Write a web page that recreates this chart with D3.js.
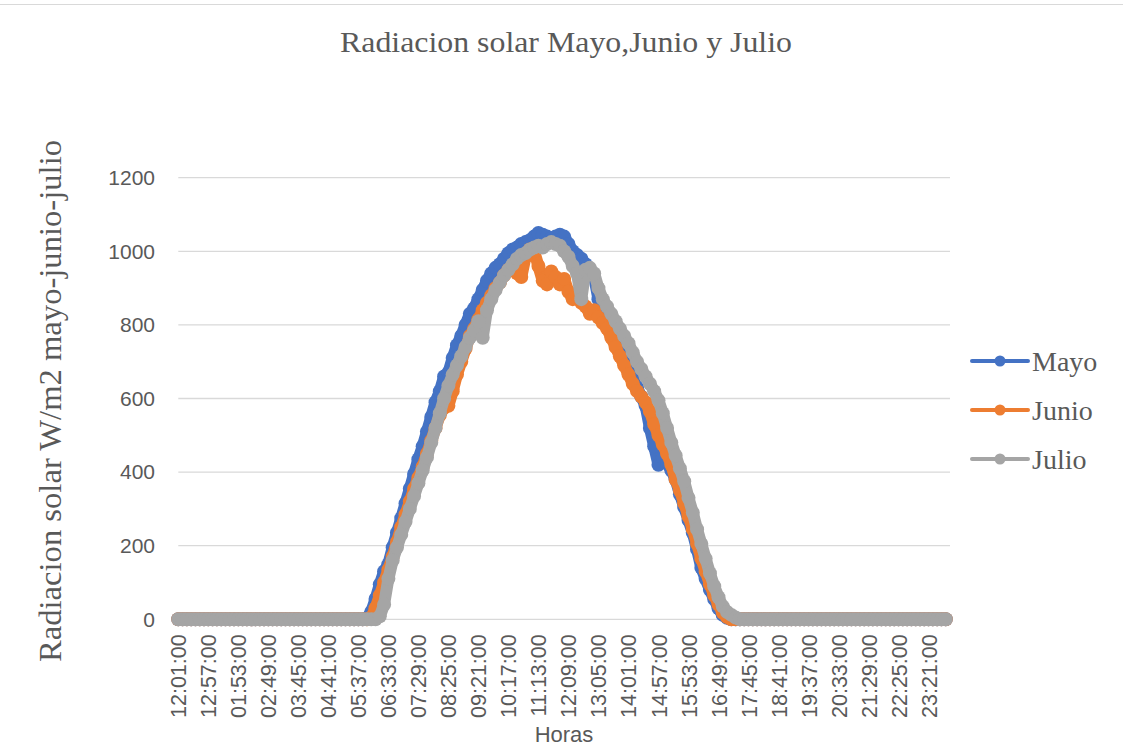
<!DOCTYPE html>
<html>
<head>
<meta charset="utf-8">
<script src="https://cdn.jsdelivr.net/npm/d3@7/dist/d3.min.js"></script>
<style>
  body { margin: 0; background: #fff; }
  svg { display: block; }
</style>
</head>
<body>
<div id="chart"></div>
<script>
// categories: one sample every 8 minutes starting at 00:01
const minutos = d3.range(1, 1440, 8);

const tickLabels = [
  '12:01:00', '12:57:00', '01:53:00', '02:49:00', '03:45:00', '04:41:00',
  '05:37:00', '06:33:00', '07:29:00', '08:25:00', '09:21:00', '10:17:00',
  '11:13:00', '12:09:00', '13:05:00', '14:01:00', '14:57:00', '15:53:00',
  '16:49:00', '17:45:00', '18:41:00', '19:37:00', '20:33:00', '21:29:00',
  '22:25:00', '23:21:00'
];

const yTicks = [0, 200, 400, 600, 800, 1000, 1200];

const mayo = [
  0, 0, 0, 0, 0, 0, 0, 0, 0, 0,
  0, 0, 0, 0, 0, 0, 0, 0, 0, 0,
  0, 0, 0, 0, 0, 0, 0, 0, 0, 0,
  0, 0, 0, 0, 0, 0, 0, 0, 0, 0,
  0, 0, 0, 0, 3, 20, 55, 95, 130, 150,
  195, 235, 275, 315, 355, 395, 435, 470, 510, 550,
  590, 620, 660, 670, 710, 745, 770, 800, 830, 845,
  870, 895, 920, 940, 955, 965, 980, 995, 1005, 1010,
  1020, 1025, 1030, 1040, 1050, 1045, 1040, 1035, 1040, 1045,
  1040, 1020, 1000, 990, 980, 965, 950, 930, 870, 850,
  820, 790, 760, 735, 710, 685, 655, 630, 605, 580,
  520, 470, 420, 440, 425, 405, 380, 340, 305, 270,
  235, 190, 140, 110, 80, 55, 30, 12, 4, 0,
  0, 0, 0, 0, 0, 0, 0, 0, 0, 0,
  0, 0, 0, 0, 0, 0, 0, 0, 0, 0,
  0, 0, 0, 0, 0, 0, 0, 0, 0, 0,
  0, 0, 0, 0, 0, 0, 0, 0, 0, 0,
  0, 0, 0, 0, 0, 0, 0, 0, 0, 0
];

const junio = [
  0, 0, 0, 0, 0, 0, 0, 0, 0, 0,
  0, 0, 0, 0, 0, 0, 0, 0, 0, 0,
  0, 0, 0, 0, 0, 0, 0, 0, 0, 0,
  0, 0, 0, 0, 0, 0, 0, 0, 0, 0,
  0, 0, 0, 0, 0, 5, 30, 65, 100, 135,
  170, 210, 250, 285, 320, 355, 385, 415, 450, 485,
  520, 555, 575, 580, 620, 665, 700, 735, 770, 790,
  815, 840, 860, 880, 900, 915, 935, 950, 960, 940,
  930, 985, 1005, 1000, 960, 920, 910, 945, 930, 910,
  925, 890, 870, 880, 860, 850, 830, 840, 820, 805,
  790, 765, 740, 715, 690, 665, 640, 620, 605, 590,
  565, 530, 500, 475, 450, 420, 380, 350, 315, 280,
  245, 205, 165, 130, 95, 65, 40, 18, 6, 0,
  0, 0, 0, 0, 0, 0, 0, 0, 0, 0,
  0, 0, 0, 0, 0, 0, 0, 0, 0, 0,
  0, 0, 0, 0, 0, 0, 0, 0, 0, 0,
  0, 0, 0, 0, 0, 0, 0, 0, 0, 0,
  0, 0, 0, 0, 0, 0, 0, 0, 0, 0
];

const julio = [
  0, 0, 0, 0, 0, 0, 0, 0, 0, 0,
  0, 0, 0, 0, 0, 0, 0, 0, 0, 0,
  0, 0, 0, 0, 0, 0, 0, 0, 0, 0,
  0, 0, 0, 0, 0, 0, 0, 0, 0, 0,
  0, 0, 0, 0, 0, 0, 0, 8, 40, 110,
  160, 195, 230, 265, 300, 335, 370, 405, 440, 480,
  520, 560, 600, 635, 665, 690, 715, 740, 765, 785,
  810, 765, 840, 870, 895, 915, 935, 950, 965, 980,
  990, 995, 1005, 1010, 1015, 1010, 1020, 1025, 1020, 1015,
  1000, 985, 960, 940, 870, 950, 955, 940, 900, 870,
  850, 830, 810, 790, 770, 750, 725, 700, 680, 660,
  640, 620, 595, 560, 520, 480, 445, 410, 375, 330,
  290, 245, 205, 165, 125, 90, 60, 35, 20, 12,
  5, 0, 0, 0, 0, 0, 0, 0, 0, 0,
  0, 0, 0, 0, 0, 0, 0, 0, 0, 0,
  0, 0, 0, 0, 0, 0, 0, 0, 0, 0,
  0, 0, 0, 0, 0, 0, 0, 0, 0, 0,
  0, 0, 0, 0, 0, 0, 0, 0, 0, 0
];

const seriesNames = ['Mayo', 'Junio', 'Julio'];
const seriesColors = ['#4472C4', '#ED7D31', '#A5A5A5'];

const W = 1123;
const H = 751;
const plotLeft = 178.3;
const plotRight = 950;
const plotTop = 177.7;
const plotBottom = 619.3;
const pxPerMin = (plotRight - plotLeft) / 1440;

const svg = d3.select('#chart')
  .append('svg')
  .attr('width', W)
  .attr('height', H);

svg.append('line')
  .attr('x1', 0).attr('x2', W)
  .attr('y1', 4.5).attr('y2', 4.5)
  .attr('stroke', '#d9d9d9')
  .attr('stroke-width', 1.2);

const xScale = d3.scalePoint()
  .domain(minutos)
  .range([plotLeft, plotLeft + (minutos[minutos.length - 1] - 1) * pxPerMin]);

const yScale = d3.scaleLinear()
  .domain([0, 1200])
  .range([plotBottom, plotTop]);

// gridlines
svg.append('g')
  .selectAll('line')
  .data(yTicks)
  .enter().append('line')
  .attr('x1', plotLeft)
  .attr('x2', plotRight)
  .attr('y1', d => yScale(d))
  .attr('y2', d => yScale(d))
  .attr('stroke', '#d9d9d9')
  .attr('stroke-width', 1.3);

// y axis labels
svg.append('g')
  .attr('id', 'y-axis')
  .attr('transform', 'translate(155,0)')
  .call(d3.axisLeft(yScale)
    .tickValues(yTicks)
    .tickFormat(d3.format('d'))
    .tickSize(0)
    .tickPadding(0))
  .call(g => g.select('.domain').remove())
  .selectAll('text')
  .attr('font-family', '"Liberation Sans", Arial, sans-serif')
  .attr('font-size', 21)
  .attr('fill', '#595959');

// x axis labels, every 56 minutes
const tickCats = minutos.filter((d, i) => i % 7 === 0);

svg.append('g')
  .attr('id', 'x-axis')
  .attr('transform', `translate(0, ${plotBottom})`)
  .call(d3.axisBottom(xScale)
    .tickValues(tickCats)
    .tickFormat((d, i) => tickLabels[i])
    .tickSize(0))
  .call(g => g.select('.domain').remove())
  .selectAll('text')
  .attr('transform', 'rotate(-90)')
  .attr('x', -15)
  .attr('y', 0)
  .attr('dy', '0.35em')
  .attr('text-anchor', 'end')
  .attr('font-family', '"Liberation Sans", Arial, sans-serif')
  .attr('font-size', 21.5)
  .attr('fill', '#595959');

// series: per-minute markers overlap into a thick band
const allSeries = [mayo, junio, julio];

const line = d3.line()
  .x((d, i) => xScale(minutos[i]))
  .y(d => yScale(d));

allSeries.forEach((values, s) => {
  const g = svg.append('g').attr('class', 'serie');
  g.append('path')
    .datum(values)
    .attr('d', line)
    .attr('fill', 'none')
    .attr('stroke', seriesColors[s])
    .attr('stroke-width', 12)
    .attr('stroke-linejoin', 'round')
    .attr('stroke-linecap', 'round');
  g.selectAll('circle')
    .data(values)
    .enter().append('circle')
    .attr('cx', (d, i) => xScale(minutos[i]))
    .attr('cy', d => yScale(d))
    .attr('r', 7)
    .attr('fill', seriesColors[s]);
});

// title
svg.append('text')
  .attr('x', 566)
  .attr('y', 52)
  .attr('text-anchor', 'middle')
  .attr('font-family', '"Liberation Serif", "Times New Roman", serif')
  .attr('font-size', 30)
  .attr('textLength', 452)
  .attr('lengthAdjust', 'spacingAndGlyphs')
  .attr('fill', '#595959')
  .text('Radiacion solar Mayo,Junio y Julio');

// y title
svg.append('text')
  .attr('transform', 'translate(61,401) rotate(-90)')
  .attr('text-anchor', 'middle')
  .attr('font-family', '"Liberation Serif", "Times New Roman", serif')
  .attr('font-size', 31)
  .attr('textLength', 522)
  .attr('lengthAdjust', 'spacingAndGlyphs')
  .attr('fill', '#595959')
  .text('Radiacion solar W/m2 mayo-junio-julio');

// x title
svg.append('text')
  .attr('x', 564)
  .attr('y', 742)
  .attr('text-anchor', 'middle')
  .attr('font-family', '"Liberation Sans", Arial, sans-serif')
  .attr('font-size', 22)
  .attr('fill', '#595959')
  .text('Horas');

// legend
const legend = svg.append('g')
  .selectAll('g')
  .data(seriesNames)
  .enter().append('g')
  .attr('transform', (d, i) => `translate(0, ${361 + i * 49})`);

legend.append('line')
  .attr('x1', 972).attr('x2', 1028)
  .attr('stroke', (d, i) => seriesColors[i])
  .attr('stroke-width', 4)
  .attr('stroke-linecap', 'round');

legend.append('circle')
  .attr('cx', 1000)
  .attr('r', 5.5)
  .attr('fill', (d, i) => seriesColors[i]);

legend.append('text')
  .attr('x', 1032)
  .attr('dy', '0.35em')
  .attr('font-family', '"Liberation Serif", "Times New Roman", serif')
  .attr('font-size', 28)
  .attr('fill', '#595959')
  .text(d => d);
</script>
</body>
</html>
